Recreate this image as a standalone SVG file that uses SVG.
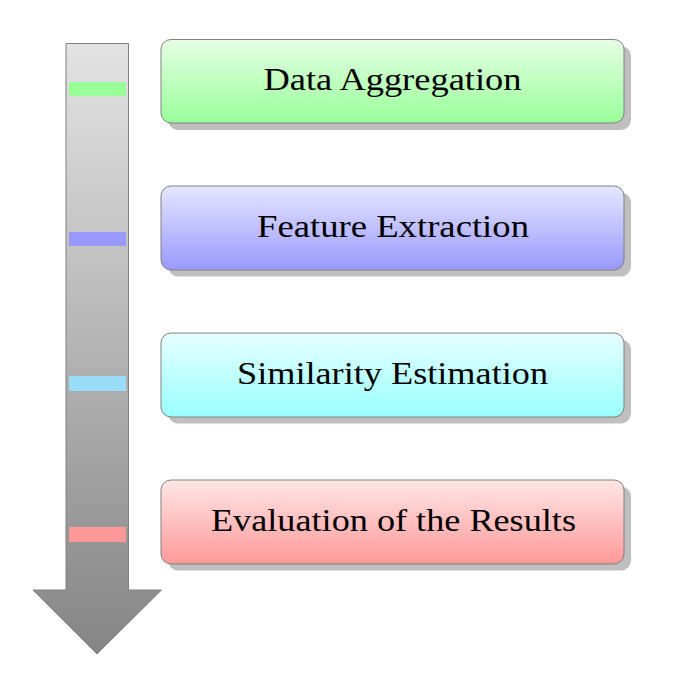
<svg xmlns="http://www.w3.org/2000/svg" width="681" height="673" viewBox="0 0 681 673">
<defs>
<linearGradient id="gArrow" x1="0" y1="0" x2="0" y2="1" gradientUnits="userSpaceOnUse" gradientTransform="translate(0,43) scale(1,611)"><stop offset="0" stop-color="#e3e3e3"/><stop offset="1" stop-color="#858585"/></linearGradient>
<linearGradient id="gGreen" x1="0" y1="0" x2="0" y2="1"><stop offset="0" stop-color="#e6ffe6"/><stop offset="1" stop-color="#99ff99"/></linearGradient>
<linearGradient id="gBlue" x1="0" y1="0" x2="0" y2="1"><stop offset="0" stop-color="#e6e6ff"/><stop offset="1" stop-color="#9999ff"/></linearGradient>
<linearGradient id="gCyan" x1="0" y1="0" x2="0" y2="1"><stop offset="0" stop-color="#e6ffff"/><stop offset="1" stop-color="#99ffff"/></linearGradient>
<linearGradient id="gRed" x1="0" y1="0" x2="0" y2="1"><stop offset="0" stop-color="#ffe6e6"/><stop offset="1" stop-color="#ff9999"/></linearGradient>
</defs>
<style>
.shadow{fill:#bfbfbf}
.box{stroke:#808080;stroke-width:1}
.lbl{font-family:"Liberation Serif","Times New Roman",serif;font-size:31px;fill:#000;text-anchor:middle}
.bar{stroke:none}
</style>
<g id="arrow">
<path d="M66,43.5 H128.5 V590 H161.5 L97,654 L33,590 H66 Z" fill="url(#gArrow)" stroke="#808080" stroke-width="1"/>
<rect class="bar" x="69" y="82" width="57" height="14" fill="#99ff99"/>
<rect class="bar" x="69" y="232" width="57" height="14" fill="#9999ff"/>
<rect class="bar" x="69" y="376" width="57" height="15" fill="#99ddf8"/>
<rect class="bar" x="69" y="527" width="57" height="15" fill="#ff9999"/>
</g>
<g id="node1">
<rect class="shadow" x="168" y="46" width="463" height="84" rx="10"/>
<rect class="box" x="161" y="39.5" width="463" height="83.5" rx="10" fill="url(#gGreen)"/>
<text class="lbl" x="392.5" y="89.5" textLength="258" lengthAdjust="spacingAndGlyphs">Data Aggregation</text>
</g>
<g id="node2">
<rect class="shadow" x="168" y="192.5" width="463" height="84" rx="10"/>
<rect class="box" x="161" y="186" width="463" height="84" rx="10" fill="url(#gBlue)"/>
<text class="lbl" x="393" y="236.5" textLength="272" lengthAdjust="spacingAndGlyphs">Feature Extraction</text>
</g>
<g id="node3">
<rect class="shadow" x="168" y="339.5" width="463" height="84" rx="10"/>
<rect class="box" x="161" y="333" width="463" height="84" rx="10" fill="url(#gCyan)"/>
<text class="lbl" x="392.5" y="383.5" textLength="311" lengthAdjust="spacingAndGlyphs">Similarity Estimation</text>
</g>
<g id="node4">
<rect class="shadow" x="168" y="486.5" width="463" height="84" rx="10"/>
<rect class="box" x="161" y="480" width="463" height="84" rx="10" fill="url(#gRed)"/>
<text class="lbl" x="393.5" y="531" textLength="365" lengthAdjust="spacingAndGlyphs">Evaluation of the Results</text>
</g>
<g id="connectors"></g>
</svg>
